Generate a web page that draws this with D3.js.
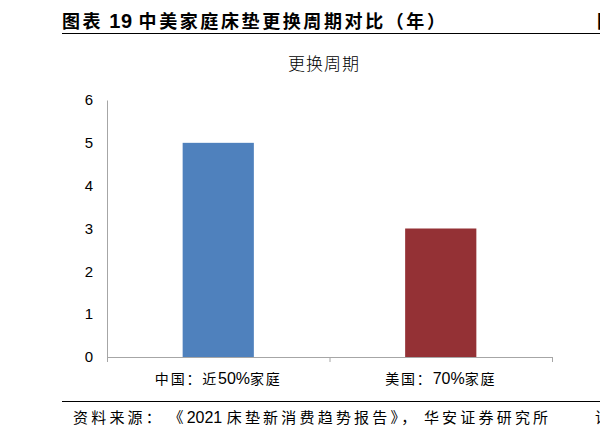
<!DOCTYPE html>
<html><head><meta charset="utf-8">
<script src="https://cdn.jsdelivr.net/npm/d3@7"></script>
<style>body{margin:0;background:#fff}svg{display:block}</style>
</head><body>
<svg id="c" width="600" height="434"></svg>
<script>
const categories = ["中国：近50%家庭", "美国：70%家庭"];
const values = [5, 3];
const colors = ["#4F81BD", "#943135"];
const yTicks = [0, 1, 2, 3, 4, 5, 6];
const titleText = "图表 19 中美家庭床垫更换周期对比（年）";
const chartTitle = "更换周期";
const sourceText = "资料来源： 《2021 床垫新消费趋势报告》， 华安证券研究所";

const svg = d3.select("#c");
const latin = "'Liberation Sans', Arial, sans-serif";
const cjk = "'Noto Sans CJK SC', sans-serif";

// write mixed Latin / CJK text as runs of tspans
function mixed(sel, str, o) {
  const runs = str.match(/[\x00-\x7f]+|[^\x00-\x7f]+/g) || [];
  runs.forEach(r => {
    const isLatin = /^[\x00-\x7f]+$/.test(r);
    sel.append("tspan")
      .attr("font-family", isLatin ? latin : cjk)
      .attr("font-size", isLatin ? o.latinSize : o.cjkSize)
      .attr("letter-spacing", isLatin ? (o.latinSpacing || 0) : o.cjkSpacing)
      .attr("font-weight", isLatin ? (o.latinWeight || "normal") : (o.cjkWeight || "normal"))
      .text(r);
  });
  return sel;
}

// header
mixed(svg.append("text").attr("x", 62).attr("y", 28).attr("fill", "#000"), titleText,
  {latinSize: 20, cjkSize: 18, cjkSpacing: 2.6, latinSpacing: 0.5, latinWeight: "bold", cjkWeight: "bold"});
svg.append("text").attr("x", 597).attr("y", 28)
  .attr("font-family", cjk).attr("font-weight", "bold").attr("font-size", 18)
  .attr("fill", "#000").text("图");
svg.append("line").attr("x1", 62).attr("x2", 600).attr("y1", 33.5).attr("y2", 33.5)
  .attr("stroke", "#000").attr("stroke-width", 1.2);

svg.append("text").attr("x", 324).attr("y", 70).attr("text-anchor", "middle")
  .attr("font-family", cjk).attr("font-weight", 300).attr("font-size", 17)
  .attr("letter-spacing", 1)
  .attr("fill", "#000").text(chartTitle);

// scales
const x = d3.scaleBand().domain(categories).range([107, 552]).padding(0);
const y = d3.scaleLinear().domain([0, 6]).range([357, 100]);
const barW = x.bandwidth() * 0.32;

// y axis
const yAxis = svg.append("g").attr("transform", "translate(107,0)")
  .call(d3.axisLeft(y).tickValues(yTicks).tickSize(0).tickPadding(14).tickFormat(d3.format("d")));
yAxis.select(".domain").attr("stroke", "#A6A6A6");
yAxis.selectAll("text").attr("font-family", latin).attr("font-size", 15).attr("fill", "#000");

// bars
svg.selectAll("rect.bar").data(values).enter().append("rect")
  .attr("class", "bar")
  .attr("x", (d, i) => x(categories[i]) + x.bandwidth() / 2 - barW / 2)
  .attr("width", barW)
  .attr("y", d => y(d))
  .attr("height", d => y(0) - y(d))
  .attr("fill", (d, i) => colors[i]);

// x axis (ticks at band boundaries)
const xb = d3.scaleLinear().domain([0, categories.length]).range([107, 552]);
const xAxis = svg.append("g").attr("transform", "translate(0,357)")
  .call(d3.axisBottom(xb).tickValues(d3.range(categories.length + 1)).tickSize(5).tickSizeOuter(5).tickFormat(""));
xAxis.select(".domain").attr("stroke", "#A6A6A6");
xAxis.selectAll(".tick line").attr("stroke", "#A6A6A6");

categories.forEach(c => {
  mixed(svg.append("text").attr("x", x(c) + x.bandwidth() / 2).attr("y", 384)
    .attr("text-anchor", "middle").attr("fill", "#000"), c,
    {latinSize: 16, cjkSize: 14, cjkSpacing: 1.8});
});

// footer
svg.append("line").attr("x1", 62).attr("x2", 600).attr("y1", 401.5).attr("y2", 401.5)
  .attr("stroke", "#000").attr("stroke-width", 1);
mixed(svg.append("text").attr("x", 73).attr("y", 423).attr("fill", "#000"), sourceText,
  {latinSize: 16, cjkSize: 15, cjkSpacing: 3.2});
svg.append("text").attr("x", 595).attr("y", 423)
  .attr("font-family", cjk).attr("font-size", 15).attr("fill", "#000").text("请");
</script>
</body></html>
